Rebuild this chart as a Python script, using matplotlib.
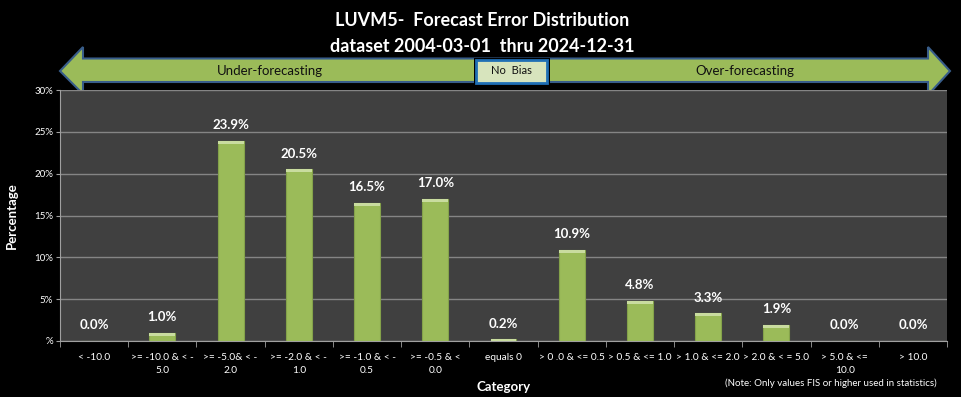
import numpy as np
import matplotlib
matplotlib.use("Agg")
import matplotlib.pyplot as plt
from matplotlib.patches import Polygon, Rectangle

plt.rcParams['font.family'] = ['Lato', 'DejaVu Sans']

categories = ["< -10.0", ">= -10.0 & < -\n5.0", ">= -5.0& < -\n2.0", ">= -2.0 & < -\n1.0",
              ">= -1.0 & < -\n0.5", ">= -0.5 & <\n0.0", "equals 0", "> 0 .0 & <= 0.5",
              "> 0.5 & <= 1.0", "> 1.0 & <= 2.0", "> 2.0 & < = 5.0", "> 5.0 & <=\n10.0", "> 10.0"]
percent = [0.0, 1.0, 23.9, 20.5, 16.5, 17.0, 0.2, 10.9, 4.8, 3.3, 1.9, 0.0, 0.0]
yticks = [0, 5, 10, 15, 20, 25, 30]
ytick_labels = ["%", "5%", "10%", "15%", "20%", "25%", "30%"]

W, H = 961, 397
fig = plt.figure(figsize=(W / 100, H / 100), dpi=100, facecolor='black')

# overlay in pixel coords for the arrow banner
bg = fig.add_axes([0, 0, 1, 1])
bg.set_xlim(0, W)
bg.set_ylim(H, 0)
bg.axis('off')

arrow = [(60, 71), (83, 47), (83, 58.5), (928, 58.5), (928, 47), (950, 71),
         (928, 95), (928, 82), (83, 82), (83, 94)]
bg.add_patch(Polygon(arrow, closed=True, facecolor='#9BBB59', edgecolor='#385D8A', lw=1.5, zorder=2))
bg.add_patch(Rectangle((474, 57.5), 76, 26, facecolor='black', edgecolor='none', zorder=3))
bg.add_patch(Rectangle((476, 59.5), 71, 23, facecolor='#D7E4BD', edgecolor='#1F6FB5', lw=2, zorder=4))
bg.text(270, 71, "Under-forecasting", ha='center', va='center', fontsize=9.5, color='#111111', zorder=5)
bg.text(745, 71, "Over-forecasting", ha='center', va='center', fontsize=9.5, color='#111111', zorder=5)
bg.text(511.5, 71, "No  Bias", ha='center', va='center', fontsize=8, color='#111111', zorder=5)

bg.text(482, 21, "LUVM5-  Forecast Error Distribution", ha='center', va='center',
        fontsize=13, fontweight='bold', color='white')
bg.text(482, 46, "dataset 2004-03-01  thru 2024-12-31", ha='center', va='center',
        fontsize=13, fontweight='bold', color='white')
bg.text(937, 383, "(Note: Only values FIS or higher used in statistics)", ha='right', va='center',
        fontsize=7, color='white')

ax = fig.add_axes([60 / W, 1 - 341 / H, (947 - 60) / W, (341 - 90) / H])
ax.set_zorder(1)
ax.set_facecolor('#404040')
x = np.arange(len(categories))
vals = np.array(percent)
ax.bar(x, vals, width=0.38, color='#9BBB59', edgecolor='#84A24A', lw=0.8, zorder=3)
cap = np.minimum(vals, 0.35)
ax.bar(x, cap, bottom=vals - cap, width=0.38, color='#C9DC9F', edgecolor='none', zorder=4)

for xi, v in zip(x, percent):
    ax.annotate(f"{v:.1f}%", (xi, v), xytext=(0, 7), textcoords='offset points',
                ha='center', va='bottom', fontsize=9.5, fontweight='bold', color='white', zorder=5)

ax.set_xlim(-0.5, len(categories) - 0.5)
ax.set_ylim(0, 30)
ax.set_yticks(yticks)
ax.set_yticklabels(ytick_labels, fontsize=7, color='white')
ax.yaxis.grid(True, color='#858585', lw=1, zorder=0)
ax.set_axisbelow(True)

ax.set_xticks(x)
ax.set_xticklabels(categories, fontsize=7.3, color='white', linespacing=1.55)
ax.set_xticks(np.arange(len(categories) + 1) - 0.5, minor=True)
ax.tick_params(axis='x', which='major', length=0, pad=9)
ax.tick_params(axis='x', which='minor', length=4, color='#A0A0A0')
ax.tick_params(axis='y', length=3, color='#A0A0A0', pad=2)

for s in ['top', 'right']:
    ax.spines[s].set_visible(False)
for s in ['left', 'bottom']:
    ax.spines[s].set_color('#A0A0A0')

ax.set_xlabel("Category", fontsize=9.5, fontweight='bold', color='white', labelpad=4)
ax.set_ylabel("Percentage", fontsize=9.5, fontweight='bold', color='white', labelpad=12)

fig.savefig("out.png", dpi=100, facecolor='black')
